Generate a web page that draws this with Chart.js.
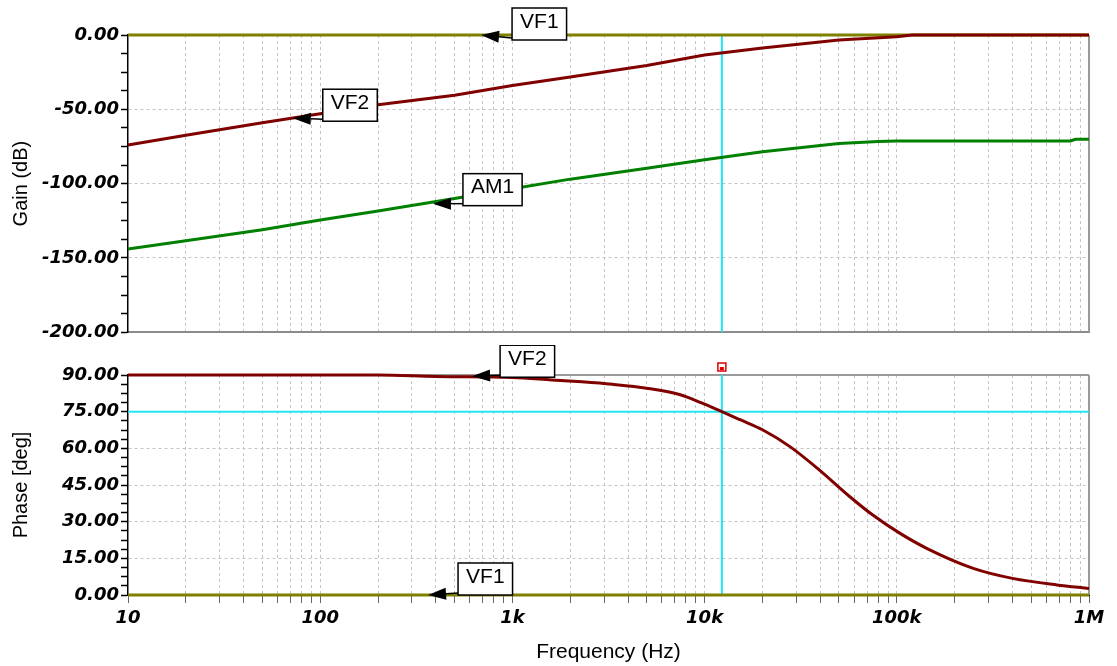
<!DOCTYPE html>
<html>
<head>
<meta charset="utf-8">
<script src="https://cdn.jsdelivr.net/npm/chart.js@4.4.1/dist/chart.umd.min.js"></script>
<style>
body { margin: 0; background: #fff; width: 1117px; height: 666px; overflow: hidden; }
canvas { position: absolute; left: 0; }
#gainChart { top: 0; }
#phaseChart { top: 345px; }
</style>
</head>
<body>
<canvas id="gainChart" width="1117" height="345"></canvas>
<canvas id="phaseChart" width="1117" height="321"></canvas>
<script>
// values (frequency in Hz)
const freqTicks = [10, 100, 1e3, 1e4, 1e5, 1e6];
const freqLabels = ['10', '100', '1k', '10k', '100k', '1M'];

const vf1GainFreq = [10, 1e6];
const vf1Gain = [0, 0];
const vf2GainFreq = [10, 20, 50, 100, 200, 500, 1e3, 2e3, 5e3, 1e4, 2e4, 5e4, 1e5, 1.2e5, 1e6];
const vf2Gain = [-74, -67.5, -59, -53, -47, -40.5, -34, -28.3, -20.5, -13.5, -8.7, -3.4, -1.2, 0, 0];
const am1GainFreq = [10, 20, 50, 100, 200, 500, 1e3, 2e3, 5e3, 1e4, 2e4, 5e4, 8e4, 1e5, 8e5, 8.5e5, 1e6];
const am1Gain = [-144, -138.5, -131, -124.5, -118.5, -110, -103.5, -97, -89.6, -84, -78.5, -73, -71.6, -71.3, -71.3, -70.2, -70.2];

const vf1PhaseFreq = [10, 1e6];
const vf1Phase = [0, 0];
const vf2PhaseFreq = [10, 200, 400, 1e3, 1.6e3, 2.3e3, 3.3e3, 5e3, 7.4e3, 9.5e3, 1.23e4, 1.53e4, 2e4, 2.78e4, 3.96e4, 5.7e4, 7.5e4, 1.04e5, 1.43e5, 2.5e5, 4e5, 6.8e5, 1e6];
const vf2Phase = [90, 90, 89.4, 89, 88, 87.2, 86.2, 84.6, 82, 78.8, 75, 71.7, 67.6, 60.7, 51.1, 40.2, 32.7, 25.2, 19.1, 10.9, 6.8, 4.1, 2.7];

const cursorFreq = 12300;
const cursorPhase = 75;

const gainTags = [
    { text: 'VF1', f: 687, v: 0, dx: 31, dy: 5 },
    { text: 'VF2', f: 72, v: -56, dx: 30, dy: 3 },
    { text: 'AM1', f: 386, v: -113.5, dx: 30, dy: 2 }
];
const phaseTags = [
    { text: 'VF2', f: 617, v: 89.5, dx: 28, dy: 1 },
    { text: 'VF1', f: 364, v: 0, dx: 30, dy: 0 }
];

const FONT = '"Liberation Sans", Arial, sans-serif';
const TICK_FONT = { family: '"DejaVu Sans", sans-serif', size: 18, style: 'italic', weight: 'bold' };
Chart.defaults.font.family = FONT;
Chart.defaults.color = '#000';

const OLIVE = '#808000', MAROON = '#800000', GREEN = '#008000', CYAN = '#22e6f2', GRID = '#c4c4c4';

function pts(xs, ys) {
    return xs.map((x, i) => ({ x: x, y: ys[i] }));
}

function series(data, color, smooth) {
    return {
        data: data, borderColor: color, borderWidth: 3, pointRadius: 0, clip: false,
        cubicInterpolationMode: smooth ? 'monotone' : 'default', tension: 0
    };
}

function allFreqTicks() {
    const out = [];
    for (let e = 1; e < 6; e++) {
        for (let m = 1; m < 10; m++) out.push({ value: m * Math.pow(10, e) });
    }
    out.push({ value: 1e6 });
    return out;
}

function xAxis(bottom) {
    return {
        type: 'logarithmic',
        min: 10,
        max: 1e6,
        afterBuildTicks: s => { s.ticks = allFreqTicks(); },
        afterFit: s => { s.height = bottom ? 71 : 7; },
        grid: {
            color: c => (c.tick && c.tick.value > 10) ? GRID : 'rgba(0,0,0,0)',
            drawTicks: bottom,
            tickLength: 8,
            tickColor: '#666'
        },
        border: { display: true, color: bottom ? '#000' : '#8c8c8c', width: 2, dash: [3, 3] },
        ticks: {
            display: bottom,
            autoSkip: false,
            maxRotation: 0,
            padding: 5,
            font: TICK_FONT,
            callback: v => {
                const i = freqTicks.indexOf(v);
                return i >= 0 ? freqLabels[i] : '';
            }
        },
        title: {
            display: bottom,
            text: 'Frequency (Hz)',
            font: { size: 21 },
            padding: { top: 0, bottom: 1 }
        }
    };
}

function yAxis(min, max, step, major, title) {
    return {
        min: min,
        max: max,
        afterFit: s => { s.width = 128; },
        grid: {
            color: c => (c.tick && Math.abs(c.tick.value % major) < 1e-6) ? GRID : 'rgba(0,0,0,0)',
            tickColor: '#000',
            tickLength: 7,
            tickWidth: 1.5
        },
        border: { display: true, color: '#000', width: 1.5, dash: [3, 3] },
        ticks: {
            stepSize: step,
            autoSkip: false,
            padding: 2,
            font: TICK_FONT,
            callback: v => Math.abs(v % major) < 1e-6 ? v.toFixed(2) : ''
        },
        title: { display: true, text: title, font: { size: 20 }, padding: { top: 9, bottom: 0 } }
    };
}

// plot frame, label boxes and the cursor marker
const framePlugin = {
    id: 'frame',
    beforeDatasetsDraw(chart, args, opts) {
        const a = chart.chartArea, c = chart.ctx;
        c.save();
        c.strokeStyle = '#9a9a9a';
        c.lineWidth = 2;
        c.beginPath();
        c.moveTo(a.right, a.top);
        c.lineTo(a.right, a.bottom);
        if (opts.top) {
            c.moveTo(a.left, a.top);
            c.lineTo(a.right, a.top);
        }
        c.stroke();
        c.restore();
    }
};

const tagPlugin = {
    id: 'tags',
    afterDraw(chart, args, opts) {
        const c = chart.ctx, xs = chart.scales.x, ys = chart.scales.y;
        c.save();
        c.font = '21px ' + FONT;
        (opts.items || []).forEach(t => {
            const tx = xs.getPixelForValue(t.f), ty = ys.getPixelForValue(t.v);
            const bx = tx + t.dx, by = ty + t.dy;
            const w = c.measureText(t.text).width + 16, h = 32;
            const sx = bx, sy = by - 2;
            let dx = tx - sx, dy = ty - sy;
            const len = Math.hypot(dx, dy);
            dx /= len; dy /= len;
            const hx = tx - dx * 18, hy = ty - dy * 18;
            c.strokeStyle = '#000';
            c.fillStyle = '#000';
            c.lineWidth = 1.5;
            c.beginPath();
            c.moveTo(sx, sy);
            c.lineTo(hx, hy);
            c.stroke();
            c.beginPath();
            c.moveTo(tx, ty);
            c.lineTo(hx - dy * 6, hy + dx * 6);
            c.lineTo(hx + dy * 6, hy - dx * 6);
            c.closePath();
            c.fill();
            c.fillStyle = '#fff';
            c.fillRect(bx, by - h, w, h);
            c.strokeRect(bx, by - h, w, h);
            c.fillStyle = '#000';
            c.textBaseline = 'middle';
            c.fillText(t.text, bx + 8, by - h / 2 - 2);
        });
        if (opts.marker) {
            const mx = xs.getPixelForValue(cursorFreq), my = chart.chartArea.top - 8;
            c.strokeStyle = '#e00000';
            c.lineWidth = 1.5;
            c.fillStyle = '#fff';
            c.fillRect(mx - 4, my - 4, 8, 8);
            c.strokeRect(mx - 4, my - 4, 8, 8);
            c.fillStyle = '#e00000';
            c.fillRect(mx - 2, my, 4, 3);
        }
        c.restore();
    }
};

new Chart(document.getElementById('gainChart').getContext('2d'), {
    type: 'line',
    data: {
        datasets: [
            series(pts(vf2GainFreq, vf2Gain), MAROON),
            series(pts(am1GainFreq, am1Gain), GREEN),
            series(pts(vf1GainFreq, vf1Gain), OLIVE),
            { data: [{ x: cursorFreq, y: 0 }, { x: cursorFreq, y: -200 }], borderColor: CYAN, borderWidth: 2, pointRadius: 0, clip: false }
        ]
    },
    options: {
        responsive: false,
        animation: false,
        layout: { padding: { top: 35, right: 28, left: 0, bottom: 0 } },
        plugins: { legend: { display: false }, tooltip: { enabled: false }, tags: { items: gainTags }, frame: { top: false } },
        scales: { x: xAxis(false), y: yAxis(-200, 0, 12.5, 50, 'Gain (dB)') }
    },
    plugins: [framePlugin, tagPlugin]
});

new Chart(document.getElementById('phaseChart').getContext('2d'), {
    type: 'line',
    data: {
        datasets: [
            series(pts(vf2PhaseFreq, vf2Phase), MAROON, true),
            series(pts(vf1PhaseFreq, vf1Phase), OLIVE),
            { data: [{ x: cursorFreq, y: 90 }, { x: cursorFreq, y: 0 }], borderColor: CYAN, borderWidth: 2, pointRadius: 0, clip: false },
            { data: [{ x: 10, y: cursorPhase }, { x: 1e6, y: cursorPhase }], borderColor: CYAN, borderWidth: 2, pointRadius: 0, clip: false }
        ]
    },
    options: {
        responsive: false,
        animation: false,
        layout: { padding: { top: 30, right: 28, left: 0, bottom: 0 } },
        plugins: { legend: { display: false }, tooltip: { enabled: false }, tags: { items: phaseTags, marker: true }, frame: { top: true } },
        scales: { x: xAxis(true), y: yAxis(0, 90, 3.75, 15, 'Phase [deg]') }
    },
    plugins: [framePlugin, tagPlugin]
});
</script>
</body>
</html>
